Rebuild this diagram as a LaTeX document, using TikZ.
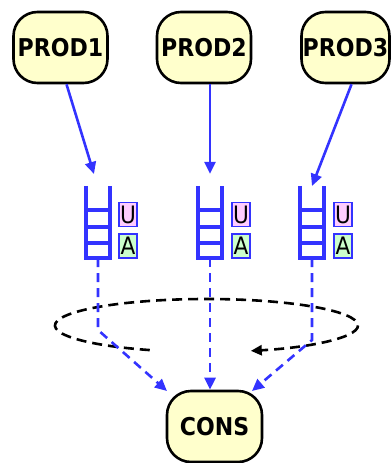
\documentclass[tikz,border=0pt]{standalone}
\usepackage{fontspec}
\newfontfamily\labelfont[FakeStretch=0.9]{DejaVu Sans}
\usetikzlibrary{arrows.meta,calc}
\definecolor{procfill}{HTML}{FFFFCC}
\definecolor{flowblue}{HTML}{3333FF}
\definecolor{usedfill}{HTML}{FFCCFF}
\definecolor{availfill}{HTML}{CCFFCC}
\begin{document}
\begin{tikzpicture}[x=1pt,y=-1pt,
  process/.style={draw=black,line width=2.6pt,fill=procfill,rounded corners=24pt,
    minimum width=94pt,minimum height=71pt,inner sep=0pt,
    font=\labelfont\bfseries\fontsize{24.5}{24.5}\selectfont},
  queue/.style={minimum width=24pt,minimum height=72pt,inner sep=0pt},
  rail/.style={draw=flowblue,line width=3.6pt},
  flag/.style={draw=flowblue,line width=1.6pt,minimum width=18pt,minimum height=24pt,
    inner sep=0pt,font=\labelfont\fontsize{24}{24}\selectfont},
  feed/.style={draw=flowblue,line width=2.6pt,-{Triangle[length=12pt,width=11pt]}},
  take/.style={feed,dash pattern=on 9pt off 6pt},
  poll/.style={draw=black,line width=2.6pt,dash pattern=on 10pt off 6pt,
    -{Triangle[length=11pt,width=10pt]}}
]
\useasboundingbox (0,0) rectangle (391,463);

% producers and consumer
\node[process] (p1) at (60.5,47.5) {PROD1};
\node[process] (p2) at (204,47.5) {PROD2};
\node[process,minimum width=88pt] (p3) at (345.5,47.5) {PROD3};
\node[process,minimum width=95pt] (cons) at (214.5,426.5) {CONS};

% queues
\node[queue] (q1) at (98,222) {};
\node[queue] (q2) at (210,222) {};
\node[queue] (q3) at (312,222) {};
\foreach \q in {q1,q2,q3} {
  \draw[rail] (\q.north west) -- (\q.south west) -- (\q.south east) -- (\q.north east);
  \foreach \f in {0.333,0.565,0.788}
    \draw[rail] ($(\q.north west)!\f!(\q.south west)$) -- ($(\q.north east)!\f!(\q.south east)$);
}

% used / available flags
\node[flag,fill=usedfill]  (u1) at (128,214.5) {U};
\node[flag,fill=availfill] (a1) at (128,246) {A};
\node[flag,fill=usedfill]  (u2) at (241,214.5) {U};
\node[flag,fill=availfill] (a2) at (241,246) {A};
\node[flag,fill=usedfill]  (u3) at (343,214.5) {U};
\node[flag,fill=availfill] (a3) at (343,246) {A};

% producers feed the queues
\coordinate (in1) at (94,174);
\coordinate (in3) at (312,186);
\draw[feed] ([xshift=6pt]p1.south) -- (in1);
\draw[feed] (p2.south -| q2.north) -- ([yshift=12pt]q2.north);
\draw[feed] ([xshift=6pt]p3.south) -- (in3);

% round-robin polling
\coordinate (orbit) at (206.5,325.5);
\draw[poll] ([shift={(112:151.5 and 26.5)}]orbit)
  arc[start angle=112, end angle=433, x radius=151.5, y radius=26.5];

% consumer takes from the queues
\coordinate (bend1) at (98,330);
\coordinate (bend3) at (312,340);
\coordinate (t1) at (167,391);
\coordinate (t3) at (252,391);
\draw[take] (q1.south) -- (bend1) -- (t1);
\draw[take] (q2.south) -- (q2.south |- cons.north);
\draw[take] (q3.south) -- (bend3) -- (t3);
\end{tikzpicture}
\end{document}
